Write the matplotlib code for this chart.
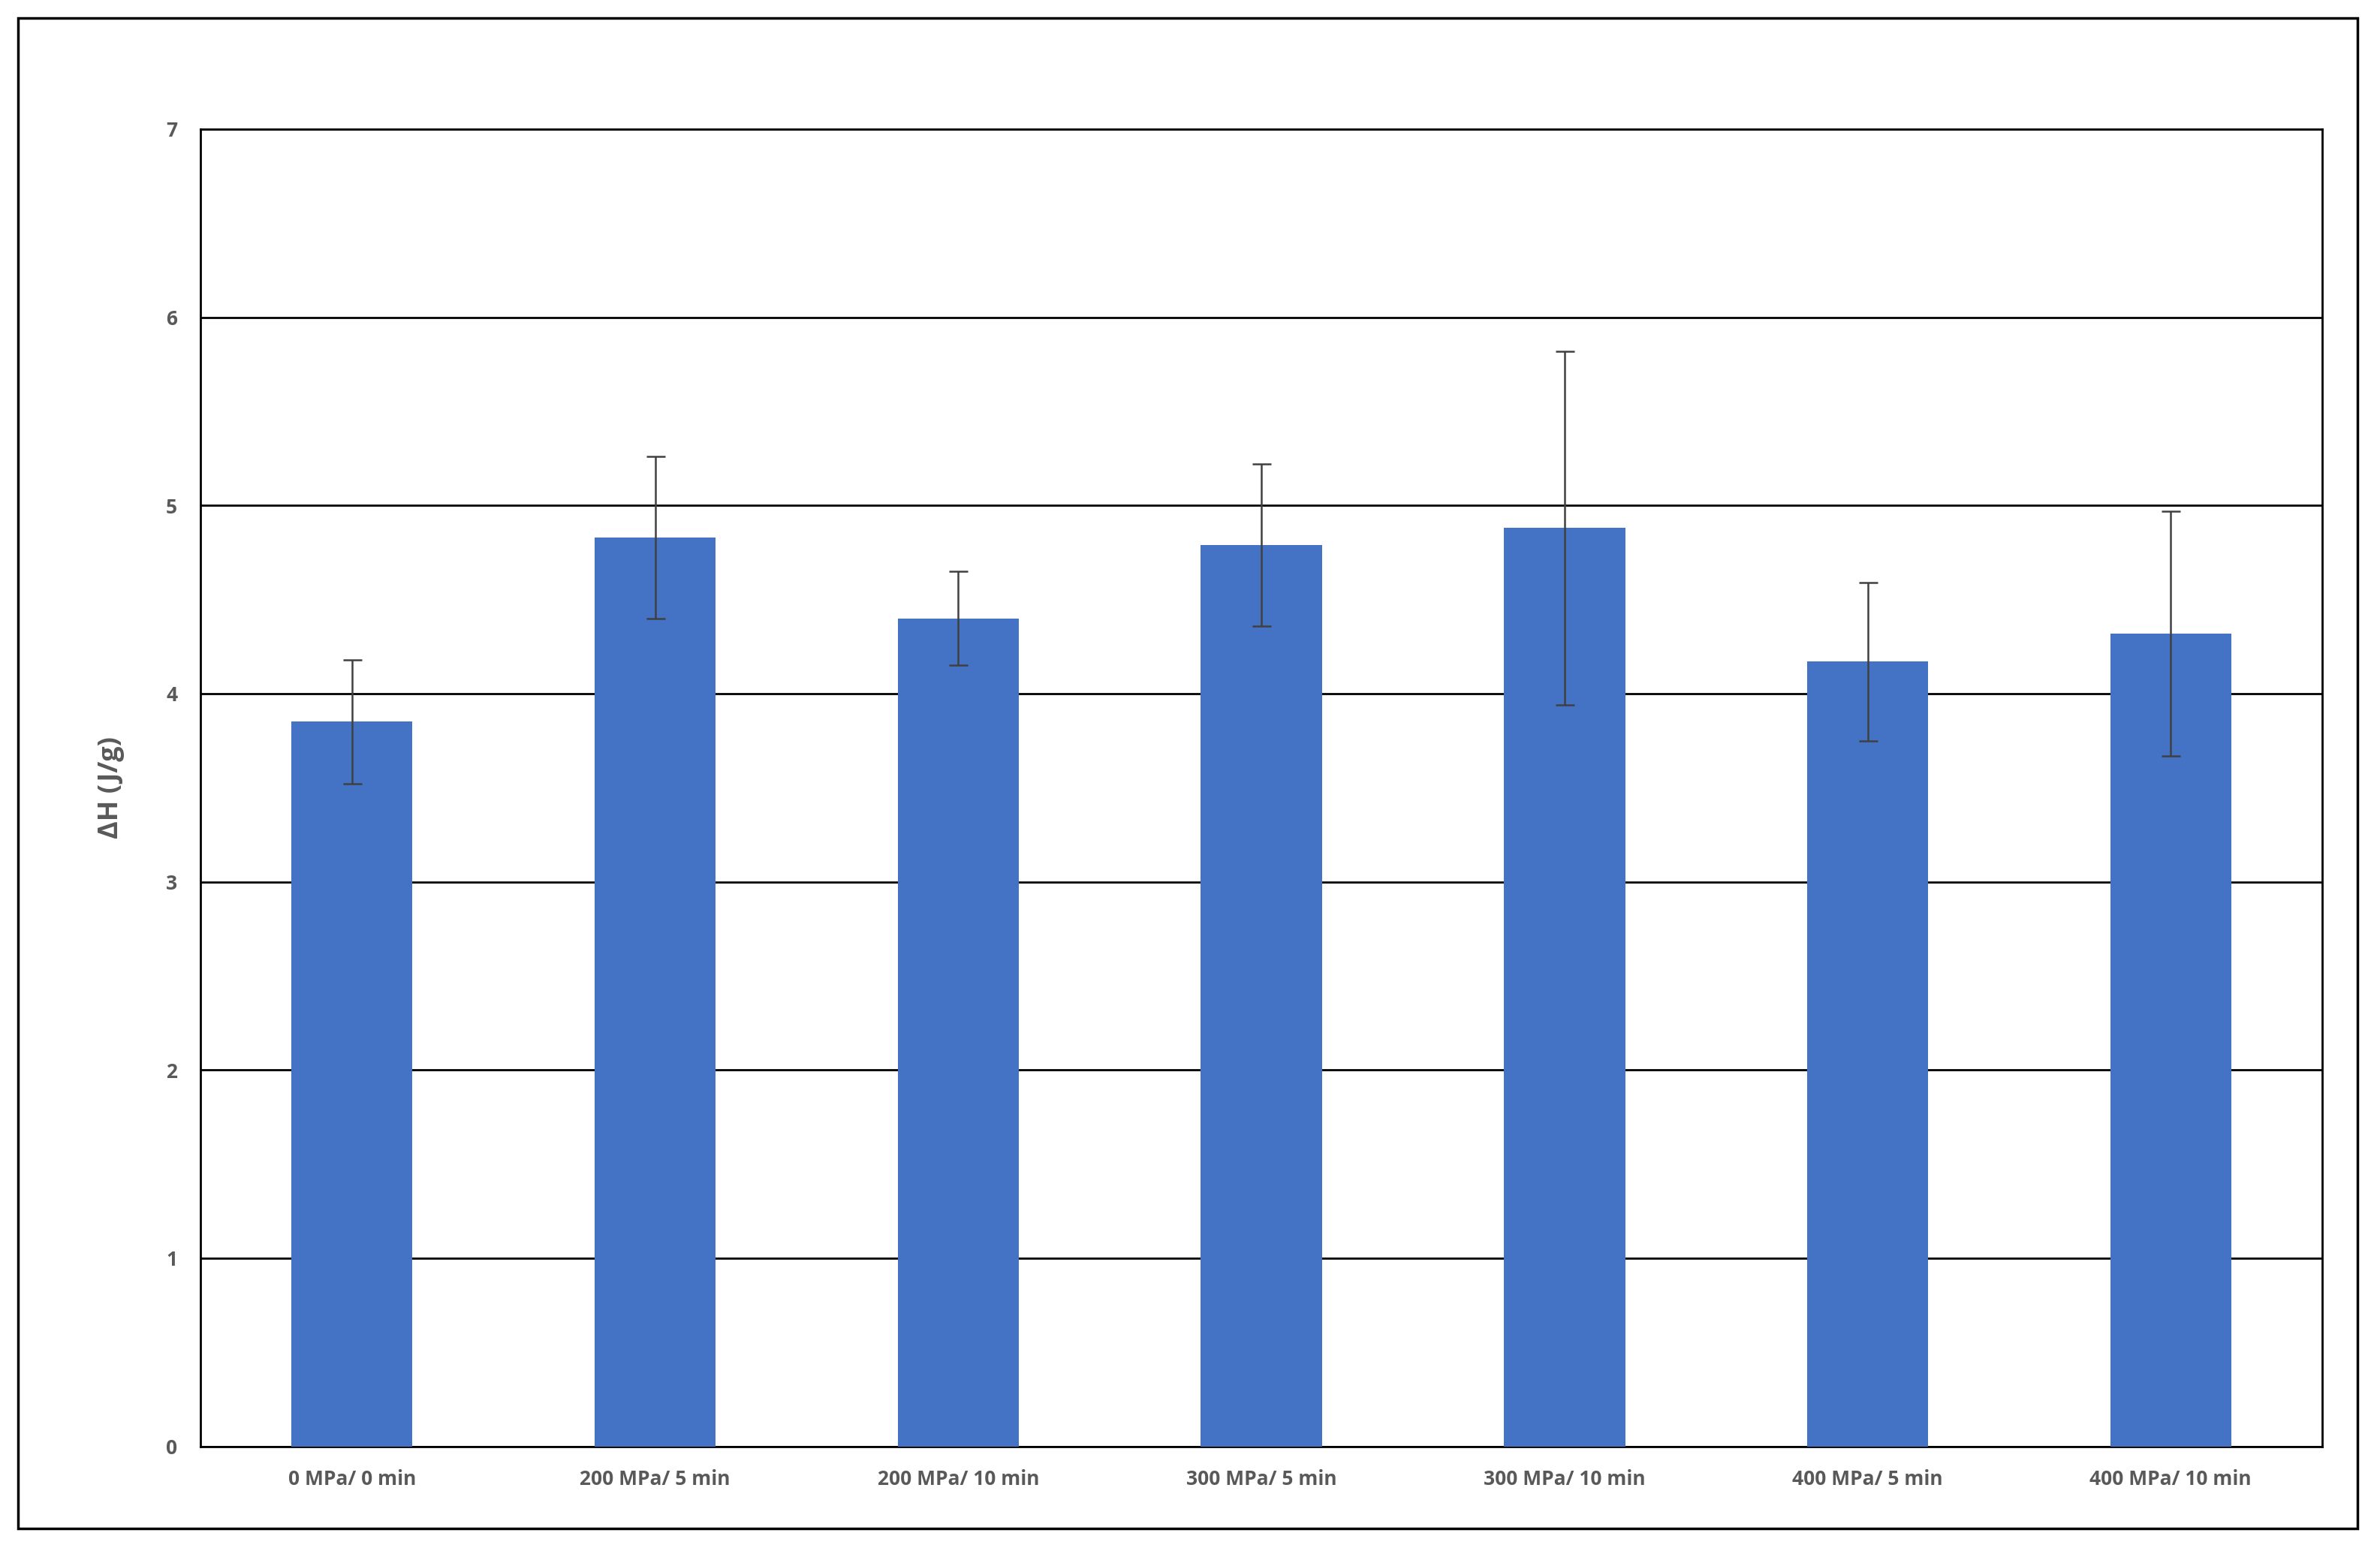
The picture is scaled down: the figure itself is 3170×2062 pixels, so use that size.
import matplotlib
matplotlib.use("Agg")
import matplotlib.pyplot as plt
from matplotlib.patches import Rectangle

categories = ["0 MPa/ 0 min", "200 MPa/ 5 min", "200 MPa/ 10 min", "300 MPa/ 5 min",
              "300 MPa/ 10 min", "400 MPa/ 5 min", "400 MPa/ 10 min"]
values = [3.85, 4.83, 4.40, 4.79, 4.88, 4.17, 4.32]
errors = [0.33, 0.43, 0.25, 0.43, 0.94, 0.42, 0.65]
yticks = [0, 1, 2, 3, 4, 5, 6, 7]

plt.rcParams['font.family'] = ['Open Sans', 'DejaVu Sans']
fig = plt.figure(figsize=(31.7, 20.62), dpi=100)
fig.patches.append(Rectangle((12/1568, 1-1007/1020), (1553-12)/1568, (1007-12)/1020,
                             transform=fig.transFigure, fill=False, edgecolor='black', linewidth=2.5))
ax = fig.add_axes([132/1568, 1-953/1020, (1530-132)/1568, (953-85)/1020])
x = range(len(categories))
ax.bar(x, values, width=0.4, color='#4472C4', zorder=3)
ax.errorbar(x, values, yerr=errors, fmt='none', ecolor='#404040', elinewidth=1.8,
            capsize=9, capthick=1.8, zorder=4)
ax.set_ylim(0, 7)
ax.set_xlim(-0.5, len(categories) - 0.5)
ax.set_yticks(yticks)
ax.yaxis.grid(True, color='black', linewidth=2, zorder=0)
ax.set_axisbelow(True)
ax.set_xticks(list(x))
ax.set_xticklabels(categories)
for s in ax.spines.values():
    s.set_linewidth(2)
ax.tick_params(length=0, labelsize=19, labelcolor='#595959', pad=22)
for t in ax.get_xticklabels() + ax.get_yticklabels():
    t.set_fontweight('bold')
ax.set_ylabel('ΔH (J/g)', fontsize=26, fontweight='bold', color='#595959', labelpad=40)
fig.savefig('out.png', dpi=100)
